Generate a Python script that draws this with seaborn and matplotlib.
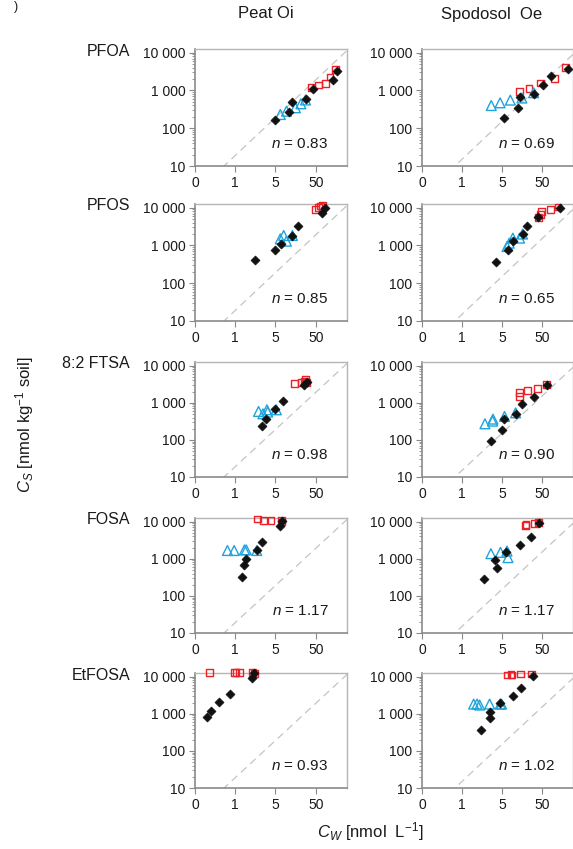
import numpy as np
import matplotlib
matplotlib.use("Agg")
import matplotlib.pyplot as plt
import matplotlib.ticker as mticker
import seaborn as sns

compounds = ["PFOA", "PFOS", "8:2 FTSA", "FOSA", "EtFOSA"]
soils = ["Peat Oi", "Spodosol  Oe"]
n_peat = [0.83, 0.85, 0.98, 1.17, 0.93]
n_spod = [0.69, 0.65, 0.90, 1.17, 1.02]

x_ticks = [0.05, 0.5, 5, 50]
x_ticklabels = ["0", "1", "5", "50"]
y_ticks = [10, 100, 1000, 10000]
y_ticklabels = ["10", "100", "1 000", "10 000"]

# (Cw, Cs) per series: black diamonds, blue triangles, red squares
pfoa_peat_black = ([4.8, 10.9, 13.2, 28, 42, 138, 168], [166, 261, 500, 577, 1060, 1920, 3190])
pfoa_peat_blue = ([6.6, 9.4, 15.7, 21.4, 28], [231, 282, 347, 443, 560])
pfoa_peat_red = ([38.9, 58, 89, 114, 152], [1225, 1386, 1504, 2260, 3540])
pfoa_spod_black = ([5.7, 12.3, 13.8, 31, 52, 85.5, 219], [192, 337, 670, 824, 1387, 2430, 3760])
pfoa_spod_blue = ([2.7, 4.5, 8.1, 15.8, 31], [398, 470, 555, 630, 870])
pfoa_spod_red = ([13.8, 23.7, 46, 104, 191], [953, 1150, 1570, 2100, 4090])

pfos_peat_black = ([1.53, 4.87, 6.75, 13.2, 17.7, 70.6, 85.5], [421, 746, 1125, 1760, 3190, 7360, 10000])
pfos_peat_blue = ([6.6, 8.0, 9.35, 13.2], [1495, 1835, 1296, 1835])
pfos_peat_red = ([49.9, 58, 66.5, 74.6], [9030, 10000, 11070, 11540])
pfos_spod_black = ([3.6, 7.2, 9.4, 16.4, 21, 39.7, 138], [370, 760, 1273, 2000, 3220, 5620, 10000])
pfos_spod_blue = ([6.7, 7.6, 9.4, 13.8, 16.4], [934, 1148, 1564, 1564, 2000])
pfos_spod_red = ([41.3, 47.2, 50, 80.7, 126], [5390, 6620, 7810, 8840, 10420])

ftsa_peat_black = ([2.34, 2.95, 4.96, 7.7, 25.5, 29.7], [240, 370, 672, 1125, 2960, 3720])
ftsa_peat_blue = ([1.9, 2.44, 3.07, 3.2, 5.26], [582, 503, 645, 560, 645])
ftsa_peat_red = ([15.1, 22.2, 25.5, 28, 29.7], [3220, 3490, 3870, 4120, 3570])
ftsa_spod_black = ([2.6, 5.0, 5.5, 11, 16.1, 31, 66.7], [91, 187, 362, 503, 934, 1412, 3090])
ftsa_spod_blue = ([1.88, 2.92, 2.98, 5.8, 11], [271, 320, 362, 427, 535])
ftsa_spod_red = ([13.6, 13.6, 21.9, 38.2, 66.7], [1470, 1845, 2130, 2460, 3090])

fosa_peat_black = ([0.72, 0.83, 0.93, 1.72, 2.34, 6.4, 7.4], [313, 685, 994, 1730, 2790, 7650, 10640])
fosa_peat_blue = ([0.32, 0.47, 0.85, 0.94, 1.72], [1664, 1664, 1730, 1730, 1664])
fosa_peat_red = ([1.76, 2.53, 3.86, 7.0, 7.3], [11800, 10640, 10640, 11090, 9800])
fosa_spod_black = ([1.74, 3.4, 3.75, 6.3, 14.4, 26.5, 42.9], [282, 908, 578, 1485, 2380, 3810, 9020])
fosa_spod_blue = ([2.65, 4.6, 6.7, 7.1], [1368, 1485, 1610, 1070])
fosa_spod_red = ([19.1, 20, 32.2, 41.3], [7820, 8320, 9020, 9600])

etfosa_peat_black = ([0.10, 0.126, 0.2, 0.37, 1.27, 1.48], [809, 1172, 2130, 3350, 9020, 12280])
etfosa_peat_blue = ([], [])
etfosa_peat_red = ([0.114, 0.47, 0.52, 0.63, 1.37, 1.48], [13200, 13200, 12700, 13200, 12700, 12280])
etfosa_spod_black = ([1.49, 2.55, 2.55, 4.54, 9.2, 14.9, 29.2], [362, 748, 1110, 1900, 3000, 5040, 10640])
etfosa_spod_blue = ([0.98, 1.19, 1.38, 2.46, 4.54, 4.9], [1820, 1820, 1715, 1820, 1820, 1820])
etfosa_spod_red = ([6.7, 8.4, 8.9, 14.4, 28.1], [11100, 11560, 11000, 11800, 11800])

# reference dashed line Cs = k * Cw (one per column)
ref_k = [38, 30]

panels = [
    [(pfoa_peat_black, pfoa_peat_blue, pfoa_peat_red), (pfoa_spod_black, pfoa_spod_blue, pfoa_spod_red)],
    [(pfos_peat_black, pfos_peat_blue, pfos_peat_red), (pfos_spod_black, pfos_spod_blue, pfos_spod_red)],
    [(ftsa_peat_black, ftsa_peat_blue, ftsa_peat_red), (ftsa_spod_black, ftsa_spod_blue, ftsa_spod_red)],
    [(fosa_peat_black, fosa_peat_blue, fosa_peat_red), (fosa_spod_black, fosa_spod_blue, fosa_spod_red)],
    [(etfosa_peat_black, etfosa_peat_blue, etfosa_peat_red), (etfosa_spod_black, etfosa_spod_blue, etfosa_spod_red)],
]
n_vals = [n_peat, n_spod]

sns.set_theme(style="ticks")
plt.rcParams["font.family"] = ["Liberation Sans", "DejaVu Sans"]
plt.rcParams["mathtext.fontset"] = "custom"
plt.rcParams["mathtext.rm"] = "Liberation Sans"
plt.rcParams["mathtext.it"] = "Liberation Sans:italic"

W, H = 573, 849
fig = plt.figure(figsize=(W / 100, H / 100), dpi=100)

col_left = [195, 422]
col_width = [152, 151]
row_top = [49, 204, 362, 518, 673]
row_bottom = [166, 321, 477, 633, 788]

black_c = "#111111"
blue_c = "#1fa3dc"
red_c = "#ec2027"

for r in range(5):
    for c in range(2):
        ax = fig.add_axes([col_left[c] / W, 1 - row_bottom[r] / H,
                           col_width[c] / W, (row_bottom[r] - row_top[r]) / H])
        ax.set_xscale("log")
        ax.set_yscale("log")

        xs = np.array([0.05, 300])
        ax.plot(xs, ref_k[c] * xs, ls=(0, (6, 4)), color="#c4c4c4", lw=0.9, zorder=1)

        black, blue, red = panels[r][c]
        if len(red[0]):
            sns.scatterplot(x=red[0], y=red[1], marker="s", s=24, facecolor="none",
                            edgecolor=red_c, linewidth=1.0, ax=ax, clip_on=False, zorder=3)
        if len(blue[0]):
            sns.scatterplot(x=blue[0], y=blue[1], marker="^", s=50, facecolor="none",
                            edgecolor=blue_c, linewidth=1.0, ax=ax, clip_on=False, zorder=3)
        sns.scatterplot(x=black[0], y=black[1], marker="D", s=21, color=black_c,
                        edgecolor=black_c, linewidth=0.5, ax=ax, clip_on=False, zorder=4)

        ax.set_xlim(0.05, 300)
        ax.set_ylim(10, 12500)
        ax.xaxis.set_major_locator(mticker.FixedLocator(x_ticks))
        ax.xaxis.set_major_formatter(mticker.FixedFormatter(x_ticklabels))
        ax.xaxis.set_minor_locator(mticker.LogLocator(base=10, subs=np.arange(2, 10) * 0.5))
        ax.xaxis.set_minor_formatter(mticker.NullFormatter())
        ax.yaxis.set_major_locator(mticker.FixedLocator(y_ticks))
        ax.yaxis.set_major_formatter(mticker.FixedFormatter(y_ticklabels))
        ax.yaxis.set_minor_locator(mticker.LogLocator(base=10, subs=np.arange(2, 10)))
        ax.yaxis.set_minor_formatter(mticker.NullFormatter())

        ax.tick_params(which="major", direction="out", length=4, width=0.8, color="#888888",
                       labelsize=10, labelcolor="#1a1a1a", pad=3)
        ax.tick_params(which="minor", direction="out", length=2.2, width=0.6, color="#888888")
        for side in ["left", "bottom"]:
            ax.spines[side].set_color("#8a8a8a")
            ax.spines[side].set_linewidth(1.2)
        for side in ["top", "right"]:
            ax.spines[side].set_color("#b5b5b5")
            ax.spines[side].set_linewidth(1.0)
        ax.set_xlabel("")
        ax.set_ylabel("")

        ax.text(0.69, 0.19, f"$n$ = {n_vals[c][r]:.2f}", transform=ax.transAxes,
                ha="center", va="center", fontsize=11, color="#1a1a1a")

        if c == 0:
            y10k = row_top[r] + 2
            fig.text(130 / W, 1 - y10k / H, compounds[r], ha="right", va="center",
                     fontsize=11.5, color="#1a1a1a")

fig.text(266 / W, 1 - 14 / H, soils[0], ha="center", va="center", fontsize=12, color="#1a1a1a")
fig.text(492 / W, 1 - 14 / H, soils[1], ha="center", va="center", fontsize=12, color="#1a1a1a")
# fragment of a panel letter at the top-left corner
fig.text(14 / W, 1 - 1 / H, ")", ha="left", va="top", fontsize=9, color="#1a1a1a")

fig.text(25 / W, 1 - 425 / H, r"$C_S$ [nmol kg$^{-1}$ soil]", rotation=90,
         ha="center", va="center", fontsize=12, color="#1a1a1a")
fig.text(370 / W, 1 - 832 / H, r"$C_W$ [nmol  L$^{-1}$]", ha="center", va="center",
         fontsize=12, color="#1a1a1a")

fig.savefig("out.png", dpi=100)
plt.close(fig)
